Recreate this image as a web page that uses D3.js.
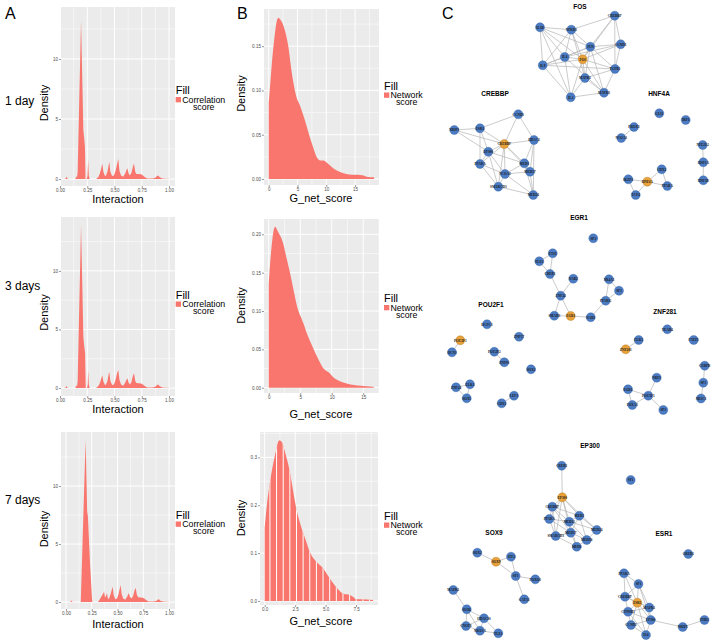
<!DOCTYPE html>
<html><head><meta charset="utf-8">
<script src="https://cdn.jsdelivr.net/npm/d3@7"></script>
<style>html,body{margin:0;padding:0;background:#fff;} svg{display:block;}</style>
</head><body><svg id="fig" width="716" height="644"></svg>
<script>
// ---------------- DATA ----------------
const rowLabels = ["1 day", "3 days", "7 days"];
const aTicksX = [0, 0.25, 0.5, 0.75, 1];
const aTicksY = [0, 5, 10];
const b1TicksX = [0, 5, 10, 15];
const b1TicksY = [0, 0.05, 0.10, 0.15];
const b2TicksX = [0, 5, 10, 15];
const b2TicksY = [0, 0.05, 0.10, 0.15, 0.20];
const b3TicksX = [0, 2.5, 5, 7.5];
const b3TicksY = [0, 0.1, 0.2, 0.3];
const b3Bins = [0.43, 0.975, 1.52, 2.065, 2.61, 3.155, 3.7, 4.245, 4.79, 5.335, 5.88, 6.425, 6.97, 7.515, 8.06, 8.605];

// Interaction (correlation score) densities [x, density]
const a1Density = [[0.03,0],[0.05,0.02],[0.06,0.2],[0.07,0.02],[0.09,0],[0.14,0],[0.15,0.25],[0.156,0.1],[0.162,0.6],[0.193,13.2],[0.214,4.1],[0.222,3.4],[0.229,2.6],[0.234,0],[0.245,0],[0.252,0.3],[0.258,1.6],[0.264,0.3],[0.272,0],[0.33,0],[0.35,0.15],[0.365,0.45],[0.378,0.9],[0.388,1.3],[0.398,0.6],[0.41,0.3],[0.42,0.25],[0.435,0.6],[0.447,1.2],[0.452,1.45],[0.462,0.6],[0.478,0.25],[0.495,0.3],[0.51,0.7],[0.525,1.3],[0.535,1.67],[0.545,0.7],[0.56,0.3],[0.58,0.2],[0.6,0.5],[0.612,0.8],[0.618,0.89],[0.628,0.5],[0.64,0.3],[0.655,0.5],[0.668,1.0],[0.679,1.3],[0.69,0.6],[0.70,0.42],[0.72,0.42],[0.745,0.4],[0.76,0.3],[0.78,0.15],[0.8,0.05],[0.85,0.05],[0.875,0.1],[0.89,0.25],[0.9,0.3],[0.915,0.15],[0.94,0.05],[0.97,0.03],[1.0,0.02]];
const a2Density = [[0.03,0],[0.05,0.02],[0.058,0.17],[0.068,0.02],[0.09,0],[0.14,0],[0.15,0.25],[0.156,0.1],[0.162,0.6],[0.193,13.9],[0.214,4.4],[0.222,3.6],[0.23,3.0],[0.236,0],[0.248,0],[0.254,0.3],[0.258,1.5],[0.264,0.3],[0.272,0],[0.33,0],[0.35,0.15],[0.365,0.4],[0.378,0.8],[0.388,1.1],[0.398,0.55],[0.41,0.3],[0.42,0.25],[0.435,0.6],[0.447,1.2],[0.452,1.4],[0.462,0.6],[0.478,0.25],[0.495,0.3],[0.51,0.7],[0.525,1.3],[0.535,1.54],[0.545,0.7],[0.56,0.3],[0.58,0.2],[0.6,0.5],[0.612,0.75],[0.618,0.83],[0.628,0.5],[0.64,0.3],[0.655,0.5],[0.668,1.0],[0.679,1.26],[0.69,0.6],[0.70,0.42],[0.72,0.4],[0.745,0.38],[0.76,0.3],[0.78,0.15],[0.8,0.05],[0.85,0.05],[0.875,0.1],[0.89,0.25],[0.9,0.3],[0.915,0.15],[0.94,0.05],[0.97,0.03],[1.0,0.02]];
const a3Density = [[0.03,0],[0.045,0.02],[0.05,0.15],[0.058,0.02],[0.08,0],[0.14,0],[0.143,0.05],[0.19,14.0],[0.205,7.8],[0.212,7.4],[0.235,3.0],[0.252,0.3],[0.256,0],[0.31,0],[0.325,0.2],[0.345,0.5],[0.362,0.75],[0.369,0.9],[0.378,0.4],[0.388,0.55],[0.397,0.75],[0.405,0.35],[0.415,0.25],[0.43,0.6],[0.447,1.15],[0.453,1.32],[0.462,0.6],[0.478,0.25],[0.495,0.3],[0.51,0.7],[0.523,1.2],[0.53,1.47],[0.54,0.7],[0.555,0.3],[0.575,0.2],[0.595,0.5],[0.605,0.7],[0.61,0.75],[0.62,0.45],[0.635,0.3],[0.65,0.5],[0.665,1.0],[0.676,1.24],[0.688,0.6],[0.70,0.42],[0.72,0.4],[0.745,0.38],[0.76,0.3],[0.78,0.15],[0.8,0.05],[0.85,0.04],[0.875,0.1],[0.893,0.22],[0.903,0.25],[0.915,0.12],[0.94,0.05],[0.97,0.03],[1.0,0.02]];

// G_net_score (network score) densities [x, density]
const b1Density = [[0,0.086],[0.3,0.11],[0.6,0.135],[1.0,0.16],[1.3,0.175],[1.67,0.182],[2.0,0.18],[2.5,0.174],[3.0,0.163],[3.4,0.15],[3.8,0.13],[4.2,0.112],[4.8,0.093],[5.3,0.085],[5.7,0.078],[6.2,0.068],[6.7,0.057],[7.1,0.048],[7.7,0.036],[8.3,0.025],[8.9,0.021],[9.5,0.021],[10.0,0.019],[10.5,0.016],[11.2,0.012],[12.0,0.009],[13.0,0.0064],[14.0,0.005],[15.0,0.0047],[15.9,0.0045],[16.5,0.004],[17.0,0.0025],[17.6,0.002],[18.3,0.002]];
const b2Density = [[0,0.135],[0.3,0.17],[0.6,0.195],[1.0,0.21],[1.5,0.203],[2.3,0.188],[2.8,0.17],[3.4,0.149],[4.0,0.125],[4.5,0.106],[5.0,0.094],[5.5,0.084],[6.0,0.072],[6.6,0.06],[7.2,0.049],[7.7,0.04],[8.2,0.032],[8.7,0.025],[9.1,0.022],[9.5,0.02],[10.2,0.014],[10.9,0.01],[11.7,0.007],[12.5,0.005],[13.5,0.0035],[14.6,0.0026],[15.5,0.0018],[16.7,0.001]];
const b3Density = [[0,0.152],[0.2,0.205],[0.44,0.249],[0.85,0.305],[1.2,0.336],[1.45,0.33],[1.66,0.312],[2.07,0.27],[2.3,0.235],[2.54,0.2],[3.03,0.152],[3.4,0.125],[3.7,0.103],[4.1,0.086],[4.8,0.068],[5.35,0.047],[5.9,0.028],[6.45,0.015],[7.0,0.0125],[7.3,0.008],[7.5,0.0035],[8.4,0.003],[8.9,0.002]];

// Networks: nodes [name, layoutX, layoutY, isHub]
const networkTitles = ["FOS","CREBBP","HNF4A","EGR1","POU2F1","ZNF281","EP300","SOX9","ESR1"];
const networkTitlePos = [[170,7],[85,94],[249,94],[169,218],[81,305],[255,311.5],[180,445.5],[84,532.5],[254,534]];
const fosNodes = [["IL1B",130,27.3],["NFKB1",161.3,29.7],["CREBBP",204.7,15.7],["JUN",180.3,46.7],["CCND1",210.7,44.3],["IL6",154.7,57],["FOS",172.7,59.3,1],["IL8",132.7,65.3],["TGFB1",205,69],["MAPK1",175,78],["IL2",160.7,97.3],["MAPK3",194,92.7]];
const fosEdges = [["IL1B","NFKB1"],["IL1B","IL6"],["IL1B","FOS"],["IL1B","IL8"],["IL1B","JUN"],["IL1B","IL2"],["NFKB1","CREBBP"],["NFKB1","JUN"],["NFKB1","IL6"],["NFKB1","FOS"],["NFKB1","IL8"],["NFKB1","MAPK1"],["CREBBP","JUN"],["CREBBP","CCND1"],["CREBBP","FOS"],["CREBBP","TGFB1"],["JUN","CCND1"],["JUN","FOS"],["JUN","IL6"],["JUN","TGFB1"],["JUN","MAPK1"],["JUN","MAPK3"],["JUN","IL8"],["CCND1","TGFB1"],["CCND1","FOS"],["CCND1","IL6"],["IL6","FOS"],["IL6","IL8"],["IL6","IL2"],["IL6","MAPK3"],["FOS","IL8"],["FOS","TGFB1"],["FOS","MAPK1"],["FOS","IL2"],["FOS","MAPK3"],["IL8","IL2"],["IL8","TGFB1"],["TGFB1","MAPK3"],["TGFB1","MAPK1"],["MAPK1","IL2"],["MAPK1","MAPK3"],["IL2","MAPK3"]];
const crebbpNodes = [["CCND1",108.3,114.3],["NRIP1",44.3,130],["ESR1",70,128.3],["CREBBP",94.3,144,1],["HDAC1",124,140],["EP300",78.3,151.7],["PPARA",70,164],["MED1",114.3,163.3],["NCOA1",95,174],["MED17",120,171.7],["SMARCD3",88.3,186.7],["MED24",123.3,195]];
const crebbpEdges = [["NRIP1","ESR1"],["NRIP1","CREBBP"],["NRIP1","EP300"],["ESR1","CREBBP"],["ESR1","EP300"],["ESR1","PPARA"],["CCND1","ESR1"],["CCND1","CREBBP"],["CCND1","HDAC1"],["CREBBP","EP300"],["CREBBP","HDAC1"],["CREBBP","MED1"],["CREBBP","NCOA1"],["CREBBP","MED17"],["CREBBP","SMARCD3"],["CREBBP","PPARA"],["EP300","PPARA"],["EP300","NCOA1"],["EP300","MED1"],["EP300","SMARCD3"],["PPARA","NCOA1"],["PPARA","SMARCD3"],["HDAC1","MED1"],["HDAC1","MED17"],["MED1","NCOA1"],["MED1","MED17"],["MED1","MED24"],["NCOA1","MED17"],["NCOA1","SMARCD3"],["MED17","MED24"],["SMARCD3","MED24"],["NCOA1","MED24"],["HDAC1","MED24"]];
const hnf4aNodes = [["GLI1",249.3,113.3],["IRF1",275.7,120],["PROX1",224,127],["NCOA1",211.3,138],["NFE2L2",292.7,145],["HNF1A",293.3,162.3],["HNF1B",293.3,180.3],["CDX2",251.7,169.3],["IKZF1",218.3,179.3],["HNF4A",237.3,181.7,1],["PPARA",257.3,186],["TCF4",225.7,195]];
const hnf4aEdges = [["PROX1","NCOA1"],["NFE2L2","HNF1A"],["HNF1A","HNF1B"],["IKZF1","HNF4A"],["IKZF1","TCF4"],["TCF4","HNF4A"],["HNF4A","CDX2"],["HNF4A","PPARA"],["CDX2","PPARA"]];
const egr1Nodes = [["SP3",183.3,238.3],["ETS1",142.7,253.3],["TLE1",129.3,261.3],["CREB1",140,274],["NAB2",163.3,278.7],["ZNF24",150.7,295.7],["NR4A1",199,279.3],["SP1",209,290.7],["PPARG",195.7,300.7],["SMAD3",144.3,315.7],["EGR1",160.7,316,1],["NAB1",180.7,317.3]];
const egr1Edges = [["ETS1","TLE1"],["ETS1","CREB1"],["TLE1","CREB1"],["CREB1","ZNF24"],["NAB2","ZNF24"],["ZNF24","SMAD3"],["ZNF24","EGR1"],["SMAD3","EGR1"],["EGR1","NAB1"],["NAB1","PPARG"],["PPARG","NR4A1"],["PPARG","SP1"],["NR4A1","SP1"]];
const pou2f1Nodes = [["HCFC1",77,324.3],["POU2F1",50.3,340.3,1],["HCN1",42,352.3],["ZNF57",109,336.7],["POU2F2",84.3,351.7],["ZNF91",94.3,362.3],["SOX2",121,369.3],["ZNF24",46,387.3],["ELK1",60,384.3],["SOX5",56.7,398.3],["LEF1",104,395.7],["CDX1",91.7,403.3]];
const pou2f1Edges = [["POU2F1","HCN1"],["POU2F2","ZNF91"],["ZNF24","ELK1"],["ZNF24","SOX5"],["ELK1","SOX5"],["LEF1","CDX1"]];
const znf281Nodes = [["TEAD4",257.3,329.3],["ELK1",228.7,340],["ZNF281",215.7,349.3,1],["PATZ1",283.7,340],["CEBPB",294.7,365.7],["SP1",293.3,382.7],["NR3C1",291,398.5],["NRF1",246.7,377.7],["EGR1",218,389.3],["POU5F1",238.3,395.7],["FOXA1",222.3,405],["SP3",253.3,410]];
const znf281Edges = [["ELK1","ZNF281"],["CEBPB","SP1"],["SP1","NR3C1"],["NRF1","POU5F1"],["EGR1","POU5F1"],["EGR1","FOXA1"],["FOXA1","POU5F1"],["POU5F1","SP3"]];
const ep300Nodes = [["CREB1",151.7,465.7],["SP1",220.7,480],["EP300",152.3,497.3,1],["CREBBP",142.3,506.7],["MED1",169.3,515.7],["PPARA",139.3,519],["MED12",159.3,521.7],["MED24",186.7,530],["MED17",160.7,532.7],["SMARCD3",145.7,536],["MED16",176.7,540],["MED6",166.7,546.7]];
const ep300Edges = [["CREB1","EP300"],["EP300","CREBBP"],["EP300","MED1"],["EP300","PPARA"],["EP300","MED12"],["EP300","MED24"],["EP300","MED17"],["EP300","SMARCD3"],["CREBBP","PPARA"],["CREBBP","MED1"],["CREBBP","MED12"],["CREBBP","MED17"],["CREBBP","SMARCD3"],["PPARA","MED12"],["PPARA","SMARCD3"],["PPARA","MED17"],["MED1","MED12"],["MED1","MED24"],["MED1","MED17"],["MED1","MED16"],["MED12","MED17"],["MED12","MED24"],["MED12","MED16"],["MED12","MED6"],["MED24","MED16"],["MED17","SMARCD3"],["MED17","MED16"],["MED17","MED6"],["MED16","MED6"],["SMARCD3","MED6"]];
const sox9Nodes = [["SOX2",67.3,552.7],["SOX9",86,561.7,1],["ATF2",101,556.7],["SF1",105.7,576],["FOXO1",125.3,579.3],["GATA1",114.3,599.3],["MAPK1",43.3,590],["SOX6",56.7,609.3],["HDAC10",74,618.3],["CNOT1",56,626],["NKX3-1",70,630.7],["TLE1",88.3,633.3]];
const sox9Edges = [["SOX2","SOX9"],["SOX9","ATF2"],["SOX9","SF1"],["ATF2","SF1"],["SF1","FOXO1"],["SF1","GATA1"],["MAPK1","SOX6"],["SOX6","HDAC10"],["SOX6","CNOT1"],["SOX6","NKX3-1"],["HDAC10","CNOT1"],["HDAC10","NKX3-1"],["HDAC10","TLE1"],["CNOT1","NKX3-1"],["NKX3-1","TLE1"]];
const esr1Nodes = [["GREB1",278.3,554],["PPARA",214,573.3],["SP1",228.5,584],["CREBBP",215,596.7],["ESR1",227.3,602.7,1],["MAPK1",239.3,607.5],["CTNNB1",218,611.7],["EP300",240.7,620],["CCND1",221,625],["IL6",236,635],["NRIP1",272.7,627],["PHB2",294.5,620]];
const esr1Edges = [["PPARA","SP1"],["PPARA","CREBBP"],["PPARA","ESR1"],["SP1","CREBBP"],["SP1","ESR1"],["SP1","MAPK1"],["SP1","EP300"],["CREBBP","ESR1"],["CREBBP","CTNNB1"],["CREBBP","MAPK1"],["ESR1","MAPK1"],["ESR1","CTNNB1"],["ESR1","EP300"],["ESR1","CCND1"],["ESR1","IL6"],["MAPK1","CTNNB1"],["MAPK1","EP300"],["CTNNB1","EP300"],["CTNNB1","CCND1"],["EP300","CCND1"],["EP300","IL6"],["EP300","NRIP1"],["CCND1","IL6"],["NRIP1","PHB2"],["CTNNB1","IL6"]];

// ---------------- DRAWING ----------------
const svg = d3.select("#fig");
svg.append("rect").attr("width",716).attr("height",644).attr("fill","#fff");
const FONT = "'Liberation Sans', Arial, Helvetica, sans-serif";
const FILL = "#F8766D";

function mids(t){ const m=[]; for(let i=0;i<t.length-1;i++) m.push((t[i]+t[i+1])/2); const s=t[1]-t[0]; m.push(t[t.length-1]+s/2); m.unshift(t[0]-s/2); return m; }

let clipId = 0;
function densityPanel(c){
  const x = d3.scaleLinear().domain(c.xDom).range([c.left, c.right]);
  const y = d3.scaleLinear().domain(c.yDom).range([c.bottom, c.top]);
  const g = svg.append("g");
  g.append("rect").attr("x",c.left).attr("y",c.top).attr("width",c.right-c.left).attr("height",c.bottom-c.top).attr("fill","#EBEBEB");
  const inX = v => v>=c.xDom[0] && v<=c.xDom[1];
  const inY = v => v>=c.yDom[0] && v<=c.yDom[1];
  g.selectAll(".mx").data(mids(c.xTicks).filter(inX)).join("line").attr("x1",d=>x(d)).attr("x2",d=>x(d)).attr("y1",c.top).attr("y2",c.bottom).attr("stroke","#fff").attr("stroke-width",0.5);
  g.selectAll(".my").data(mids(c.yTicks).filter(inY)).join("line").attr("y1",d=>y(d)).attr("y2",d=>y(d)).attr("x1",c.left).attr("x2",c.right).attr("stroke","#fff").attr("stroke-width",0.5);
  g.selectAll(".Mx").data(c.xTicks).join("line").attr("x1",d=>x(d)).attr("x2",d=>x(d)).attr("y1",c.top).attr("y2",c.bottom).attr("stroke","#fff").attr("stroke-width",1);
  g.selectAll(".My").data(c.yTicks).join("line").attr("y1",d=>y(d)).attr("y2",d=>y(d)).attr("x1",c.left).attr("x2",c.right).attr("stroke","#fff").attr("stroke-width",1);
  const area = d3.area().x(d=>x(d[0])).y0(y(0)).y1(d=>y(d[1])).curve(c.curve);
  const dpath = area(c.data);
  g.append("path").attr("d",dpath).attr("fill",FILL);
  if (c.stripes){
    const id = "clip"+(clipId++);
    svg.append("clipPath").attr("id",id).append("path").attr("d",dpath);
    g.append("g").attr("clip-path",`url(#${id})`).selectAll("line").data(c.stripes).join("line")
      .attr("x1",d=>x(d)).attr("x2",d=>x(d)).attr("y1",c.top).attr("y2",c.bottom).attr("stroke","#fff").attr("stroke-width",1);
  }
  const ax = g.append("g").attr("transform",`translate(0,${c.bottom})`).call(d3.axisBottom(x).tickValues(c.xTicks).tickFormat(c.xFmt).tickSize(2).tickPadding(1));
  const ay = g.append("g").attr("transform",`translate(${c.left},0)`).call(d3.axisLeft(y).tickValues(c.yTicks).tickFormat(c.yFmt).tickSize(2).tickPadding(1));
  [ax,ay].forEach(a=>{ a.select(".domain").remove(); a.selectAll("line").attr("stroke","#333").attr("stroke-width",0.5);
    a.selectAll("text").attr("fill","#4D4D4D").style("font-size","4.6px").style("font-family",FONT); });
  g.append("text").attr("x",c.xTitleX).attr("y",c.xTitleY).attr("text-anchor","middle").style("font-family",FONT).style("font-size","11px").text(c.xTitle);
  g.append("text").attr("transform",`translate(${c.yTitleX},${c.yTitleY}) rotate(-90)`).attr("text-anchor","middle").style("font-family",FONT).style("font-size","11px").text("Density");
  // legend
  const L = g.append("g").attr("transform",`translate(${c.legX},${c.legY})`);
  L.append("text").attr("x",0).attr("y",0).style("font-family",FONT).style("font-size","11px").text("Fill");
  L.append("rect").attr("x",0).attr("y",3).attr("width",5.3).attr("height",5.3).attr("fill",FILL);
  const t1 = L.append("text").attr("x",6.5).attr("y",8.8).style("font-family",FONT).style("font-size","8.8px").text(c.leg1);
  const w = t1.node().getComputedTextLength();
  L.append("text").attr("x",6.5+w/2).attr("y",15.8).attr("text-anchor","middle").style("font-family",FONT).style("font-size","8.8px").text("score");
}

const fmt2 = d3.format(".2f"), fmt1 = d3.format(".1f"), fmt0 = d3.format("d");
const aPanels = [
  {data:a1Density, top:7, bottom:186, xDom:[0.009,1.055], yDom:[-0.58,14.33], xTitleY:203, yTitleY:103, legY:94, rowY:105},
  {data:a2Density, top:217, bottom:396, xDom:[0.009,1.055], yDom:[-0.68,14.6], xTitleY:413, yTitleY:312.5, legY:298.5, rowY:290},
  {data:a3Density, top:432, bottom:609, xDom:[-0.049,1.058], yDom:[-0.6,14.66], xTitleY:628, yTitleY:529, legY:518.5, rowY:504}
];
aPanels.forEach((p,i)=>{
  densityPanel(Object.assign({left:61, right:175, xTicks:aTicksX, yTicks:aTicksY, xFmt:fmt2, yFmt:fmt0, curve:d3.curveLinear,
    xTitle:"Interaction", xTitleX:118, yTitleX:48, legX:175.7, leg1:"Correlation"}, p));
  svg.append("text").attr("x",5).attr("y",p.rowY).style("font-family",FONT).style("font-size","12px").text(rowLabels[i]);
});
const bPanels = [
  {data:b1Density, left:264, right:379, top:9, bottom:185, xDom:[-0.82,19.15], yDom:[-0.0068,0.192], xTicks:b1TicksX, yTicks:b1TicksY, xFmt:fmt0, yFmt:fmt2, xTitleY:202, yTitleY:93.5, legY:89.5},
  {data:b2Density, left:264, right:379, top:219, bottom:393, xDom:[-0.75,17.5], yDom:[-0.0069,0.22], xTicks:b2TicksX, yTicks:b2TicksY, xFmt:fmt0, yFmt:fmt2, xTitleY:418, yTitleY:305.5, legY:302},
  {data:b3Density, left:260, right:378, top:432, bottom:605, xDom:[-0.385,9.3], yDom:[-0.0084,0.353], xTicks:b3TicksX, yTicks:b3TicksY, xFmt:fmt1, yFmt:fmt1, xTitleY:625, yTitleY:518, legY:519.5, stripes:b3Bins}
];
bPanels.forEach(p=>{
  densityPanel(Object.assign({curve:d3.curveMonotoneX, xTitle:"G_net_score", xTitleX:321, yTitleX:245, legX:384, leg1:"Network"}, p));
});

// panel letters
[["A",5],["B",237],["C",442]].forEach(([t,x])=>svg.append("text").attr("x",x).attr("y",18.5).style("font-family",FONT).style("font-size","16px").text(t));

// networks
const cX = d3.scaleLinear().domain([0,306]).range([410,716]);
const cY = d3.scaleLinear().domain([0,644]).range([0,644]);
const nets = [[fosNodes,fosEdges],[crebbpNodes,crebbpEdges],[hnf4aNodes,hnf4aEdges],[egr1Nodes,egr1Edges],[pou2f1Nodes,pou2f1Edges],[znf281Nodes,znf281Edges],[ep300Nodes,ep300Edges],[sox9Nodes,sox9Edges],[esr1Nodes,esr1Edges]];
const NG = svg.append("g");
nets.forEach(([nodes,edges],i)=>{
  const byName = new Map(nodes.map(n=>[n[0],n]));
  const g = NG.append("g");
  g.selectAll("line").data(edges).join("line")
    .attr("x1",e=>cX(byName.get(e[0])[1])).attr("y1",e=>cY(byName.get(e[0])[2]))
    .attr("x2",e=>cX(byName.get(e[1])[1])).attr("y2",e=>cY(byName.get(e[1])[2]))
    .attr("stroke","#b5b5b5").attr("stroke-width",0.7);
  g.selectAll("circle").data(nodes).join("circle")
    .attr("cx",n=>cX(n[1])).attr("cy",n=>cY(n[2])).attr("r",4.5)
    .attr("fill",n=>n[3]?"#E9A13A":"#4B7BC2").attr("stroke",n=>n[3]?"#b07a25":"#3b66a8").attr("stroke-width",0.4);
  g.selectAll("text").data(nodes).join("text")
    .attr("x",n=>cX(n[1])).attr("y",n=>cY(n[2])+1.2).attr("text-anchor","middle")
    .style("font-family","'Liberation Serif', 'Times New Roman', serif").style("font-weight","bold").style("font-size","3.4px").attr("fill","#1a1a1a")
    .text(n=>n[0]);
  g.append("text").attr("x",cX(networkTitlePos[i][0])).attr("y",cY(networkTitlePos[i][1])+2.3).attr("text-anchor","middle")
    .style("font-family",FONT).style("font-weight","bold").style("font-size","6.5px").text(networkTitles[i]);
});
</script></body></html>
